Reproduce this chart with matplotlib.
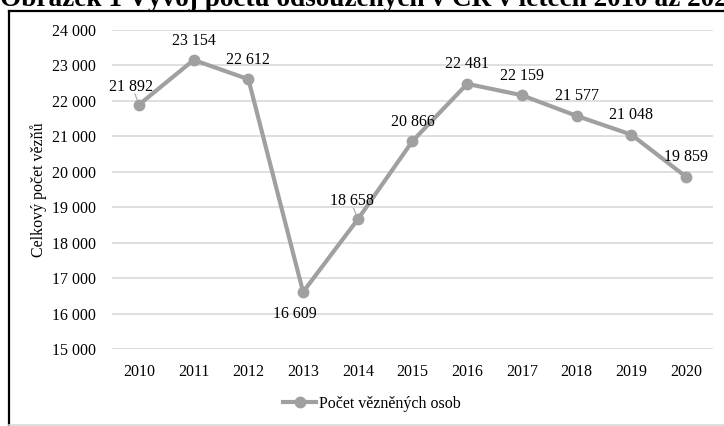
import matplotlib
matplotlib.use("Agg")
import matplotlib.pyplot as plt
from matplotlib.lines import Line2D

years = ["2010", "2011", "2012", "2013", "2014", "2015", "2016", "2017", "2018", "2019", "2020"]
values = [21892, 23154, 22612, 16609, 18658, 20866, 22481, 22159, 21577, 21048, 19859]
series_name = "Počet vězněných osob"
y_label = "Celkový počet vězňů"
title = "Obrázek 1 Vývoj počtu odsouzených v ČR v letech 2010 až 2020"
y_ticks = list(range(15000, 24001, 1000))

W, H = 724, 426
plt.rcParams['font.family'] = ['Liberation Serif', 'DejaVu Serif']
fig = plt.figure(figsize=(W / 100, H / 100), dpi=100)

ax = fig.add_axes([111.6 / W, 1 - 349 / H, (713.4 - 111.6) / W, (349 - 30) / H])
x = list(range(len(years)))
line_color = "#a0a0a0"
ax.plot(x, values, color=line_color, lw=3.0, marker='o', ms=7.5, zorder=3,
        solid_joinstyle='round')

ax.set_xlim(-0.5, len(years) - 0.5)
ax.set_ylim(15000, 24000)
ax.set_yticks(y_ticks)
ax.set_yticklabels([f"{v:,}".replace(",", " ") for v in y_ticks])
ax.set_xticks(x)
ax.set_xticklabels(years)
ax.grid(axis='y', color='#d9d9d9', lw=1.2)
ax.set_axisbelow(True)
for s in ax.spines.values():
    s.set_visible(False)
ax.tick_params(axis='both', length=0, labelsize=11.5, colors='#000000')
ax.tick_params(axis='y', pad=11)
ax.tick_params(axis='x', pad=11)
ax.set_ylabel(y_label, fontsize=11.5, labelpad=4)

# data labels (offsets in points)
offsets = {0: (-6, 13), 3: (-6, -16), 4: (-4, 13)}
for i, v in enumerate(values):
    dx, dy = offsets.get(i, (0, 14))
    txt = f"{v:,}".replace(",", " ")
    ax.annotate(txt, (i, v), xytext=(dx, dy), textcoords='offset points',
                ha='center', va='center', fontsize=11.5, zorder=4)
# leader lines
for i in (0, 4):
    ax.annotate("", xy=(i, values[i]), xytext=(-3, 8), textcoords='offset points',
                arrowprops=dict(arrowstyle='-', color='#a6a6a6', lw=0.8,
                                shrinkA=0, shrinkB=4))

handle = Line2D([], [], color=line_color, lw=3.0, marker='o', ms=7.5)
fig.legend([handle], [series_name], loc='center', bbox_to_anchor=(372 / W, 1 - 404 / H),
           frameon=False, fontsize=11.5, handlelength=2.1, handletextpad=0.2)

# chart frame lines
fig.add_artist(Line2D([9 / W, 9 / W], [1 - 10.5 / H, 0], color='black', lw=1.6,
                      transform=fig.transFigure))
fig.add_artist(Line2D([9 / W, 1], [1 - 10.5 / H, 1 - 10.5 / H], color='black', lw=1.6,
                      transform=fig.transFigure))
fig.add_artist(Line2D([9 / W, 1], [1 - 425 / H, 1 - 425 / H], color='#d9d9d9', lw=1.2,
                      transform=fig.transFigure))

fig.text(0.0, 1 - 6 / H, title, fontsize=19.6, fontweight='bold', ha='left', va='baseline')

fig.savefig("out.png", dpi=100)
